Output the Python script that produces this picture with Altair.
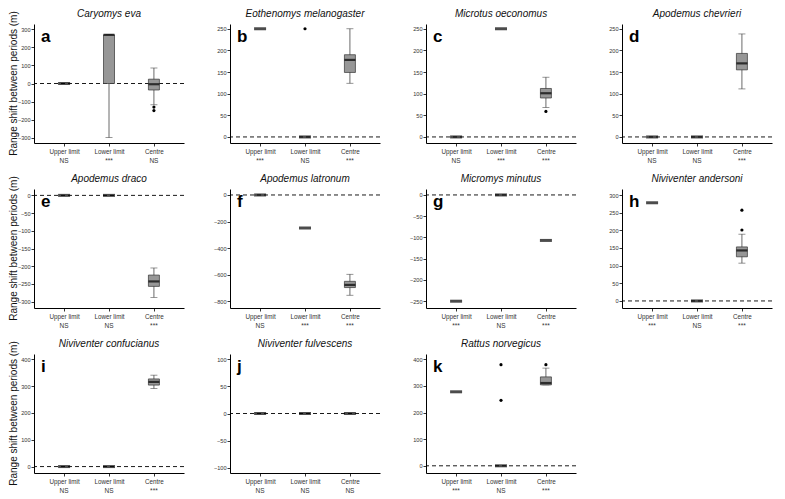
import altair as alt
import pandas as pd

FONT = "Liberation Sans"

species = ["Caryomys eva", "Eothenomys melanogaster", "Microtus oeconomus", "Apodemus chevrieri",
           "Apodemus draco", "Apodemus latronum", "Micromys minutus", "Niviventer andersoni",
           "Niviventer confucianus", "Niviventer fulvescens", "Rattus norvegicus"]
letters = ["a", "b", "c", "d", "e", "f", "g", "h", "i", "j", "k"]
categories = ["Upper limit", "Lower limit", "Centre"]

# per species, per category: [lower whisker, Q1, median, Q3, upper whisker]
box_stats = [
    [[0, 0, 0, 0, 0], [-300, 0, 270, 270, 270], [-118, -36, -4, 24, 86]],
    [[250, 250, 250, 250, 250], [0, 0, 0, 0, 0], [124, 149, 178, 190, 250]],
    [[0, 0, 0, 0, 0], [250, 250, 250, 250, 250], [68, 90, 101, 112, 138]],
    [[0, 0, 0, 0, 0], [0, 0, 0, 0, 0], [111, 155, 170, 193, 238]],
    [[0, 0, 0, 0, 0], [0, 0, 0, 0, 0], [-288, -257, -243, -225, -205]],
    [[0, 0, 0, 0, 0], [-249, -249, -249, -249, -249], [-756, -698, -678, -651, -598]],
    [[-250, -250, -250, -250, -250], [0, 0, 0, 0, 0], [-107, -107, -107, -107, -107]],
    [[278, 278, 278, 278, 278], [0, 0, 0, 0, 0], [107, 125, 143, 153, 189]],
    [[0, 0, 0, 0, 0], [0, 0, 0, 0, 0], [291, 304, 316, 327, 341]],
    [[0, 0, 0, 0, 0], [0, 0, 0, 0, 0], [0, 0, 0, 0, 0]],
    [[278, 278, 278, 278, 278], [0, 0, 0, 0, 0], [304, 304, 311, 334, 367]],
]

outlier_panel = [0, 0, 1, 2, 7, 7, 10, 10, 10]
outlier_cat = ["Centre", "Centre", "Lower limit", "Centre", "Centre", "Centre",
               "Lower limit", "Lower limit", "Centre"]
outlier_val = [-131, -150, 250, 59, 201, 257, 246, 380, 380]

significance = [
    ["NS", "***", "NS"], ["***", "NS", "***"], ["NS", "***", "***"], ["NS", "NS", "***"],
    ["NS", "NS", "***"], ["NS", "***", "***"], ["***", "NS", "***"], ["***", "NS", "***"],
    ["NS", "NS", "***"], ["NS", "NS", "NS"], ["***", "NS", "***"],
]

y_domains = [[-330, 330], [-14, 261], [-14, 261], [-14, 261], [-318, 18], [-852, 45],
             [-266, 14], [-20, 317], [-24, 420], [-110, 110], [-27, 420]]
y_ticks = [
    [-300, -200, -100, 0, 100, 200, 300],
    [0, 50, 100, 150, 200, 250],
    [0, 50, 100, 150, 200, 250],
    [0, 50, 100, 150, 200, 250],
    [-300, -250, -200, -150, -100, -50, 0],
    [-800, -600, -400, -200, 0],
    [-250, -200, -150, -100, -50, 0],
    [0, 50, 100, 150, 200, 250, 300],
    [0, 100, 200, 300, 400],
    [-100, -50, 0, 50, 100],
    [0, 100, 200, 300, 400],
]
y_title = "Range shift between periods (m)"

W, H = 150, 119


def panel(i):
    df = pd.DataFrame({
        "cat": categories,
        "lw": [s[0] for s in box_stats[i]],
        "q1": [s[1] for s in box_stats[i]],
        "med": [s[2] for s in box_stats[i]],
        "q3": [s[3] for s in box_stats[i]],
        "uw": [s[4] for s in box_stats[i]],
        "sig": significance[i],
    })
    boxdf = df[df["q3"] > df["q1"]]
    flat = df[df["q3"] == df["q1"]]
    first = (i % 4 == 0)

    yaxis = alt.Axis(title=None, values=y_ticks[i], labelFontSize=5.6, labelColor="#333",
                     tickSize=3, labelPadding=1, grid=False, domainColor="black",
                     tickColor="black", domainWidth=1, tickWidth=0.8, labelFont=FONT)
    xaxis = alt.Axis(title=None, labelFontSize=6.3, labelColor="#333", tickSize=3, labelPadding=2,
                     labelAngle=0, grid=False, domainColor="black", tickColor="black",
                     domainWidth=1, tickWidth=0.8, labelFont=FONT)
    yscale = alt.Scale(domain=y_domains[i], nice=False, zero=False)
    xscale = alt.Scale(type="point", domain=categories, padding=0.67)

    def X():
        return alt.X("cat:N", scale=xscale, axis=xaxis)

    def Y(f):
        return alt.Y(f"{f}:Q", scale=yscale, axis=yaxis)

    layers = []
    zero = alt.Chart(pd.DataFrame({"z": [0]})).mark_rule(
        color="black", strokeDash=[4, 3], strokeWidth=0.9).encode(y=Y("z"))
    layers.append(zero)

    if len(boxdf):
        whisk = alt.Chart(boxdf).mark_rule(color="#444", strokeWidth=0.8).encode(
            x=X(), y=Y("lw"), y2=alt.Y2("uw:Q"))
        caps_df = pd.DataFrame({
            "cat": list(boxdf["cat"]) * 2,
            "v": list(boxdf["lw"]) + list(boxdf["uw"]),
        })
        caps = alt.Chart(caps_df).mark_tick(color="#444", size=7, thickness=0.8).encode(
            x=X(), y=Y("v"))
        box = alt.Chart(boxdf).mark_bar(size=11, color="#979797", stroke="#333",
                                        strokeWidth=0.7).encode(
            x=X(), y=Y("q1"), y2=alt.Y2("q3:Q"))
        med = alt.Chart(boxdf).mark_tick(color="black", size=11, thickness=2.2).encode(
            x=X(), y=Y("med"))
        layers += [whisk, caps, box, med]
    if len(flat):
        fl = alt.Chart(flat).mark_tick(color="black", size=12, thickness=3).encode(
            x=X(), y=Y("med"))
        layers.append(fl)

    pts = [(c, v) for p, c, v in zip(outlier_panel, outlier_cat, outlier_val) if p == i]
    if pts:
        odf = pd.DataFrame({"cat": [p[0] for p in pts], "v": [p[1] for p in pts]})
        layers.append(alt.Chart(odf).mark_circle(color="black", size=10, opacity=1).encode(
            x=X(), y=Y("v")))

    lab = pd.DataFrame({"letter": [letters[i]], "name": [species[i]], "yt": [y_title]})
    lt = alt.Chart(lab).mark_text(
        fontSize=17, fontWeight="bold", align="left", baseline="alphabetic", font=FONT,
        color="black").encode(x=alt.value(7), y=alt.value(18), text="letter:N")
    layers.append(lt)

    ttl = alt.Chart(lab).mark_text(
        fontSize=10, fontStyle="italic", align="center", baseline="middle", font=FONT,
        color="#111").encode(x=alt.value(W / 2), y=alt.value(-10), text="name:N")
    layers.append(ttl)

    if first:
        yt = alt.Chart(lab).mark_text(
            fontSize=10, angle=270, align="center", baseline="middle", font=FONT,
            color="#111").encode(x=alt.value(-20), y=alt.value(H / 2), text="yt:N")
        layers.append(yt)

    sig = alt.Chart(df).mark_text(fontSize=6.5, color="#333", font=FONT, baseline="middle").encode(
        x=X(), y=alt.value(H + 18), text="sig:N")
    layers.append(sig)

    return alt.layer(*layers).properties(width=W, height=H)


panels = [panel(i) for i in range(len(species))]

chart = alt.concat(*panels, columns=4, spacing=46, bounds="flush").properties(
    padding={"left": 0, "top": 0, "right": 0, "bottom": 0}
).configure_view(stroke="transparent")

chart.save("out.html", embed_options={"renderer": "svg", "actions": False})
